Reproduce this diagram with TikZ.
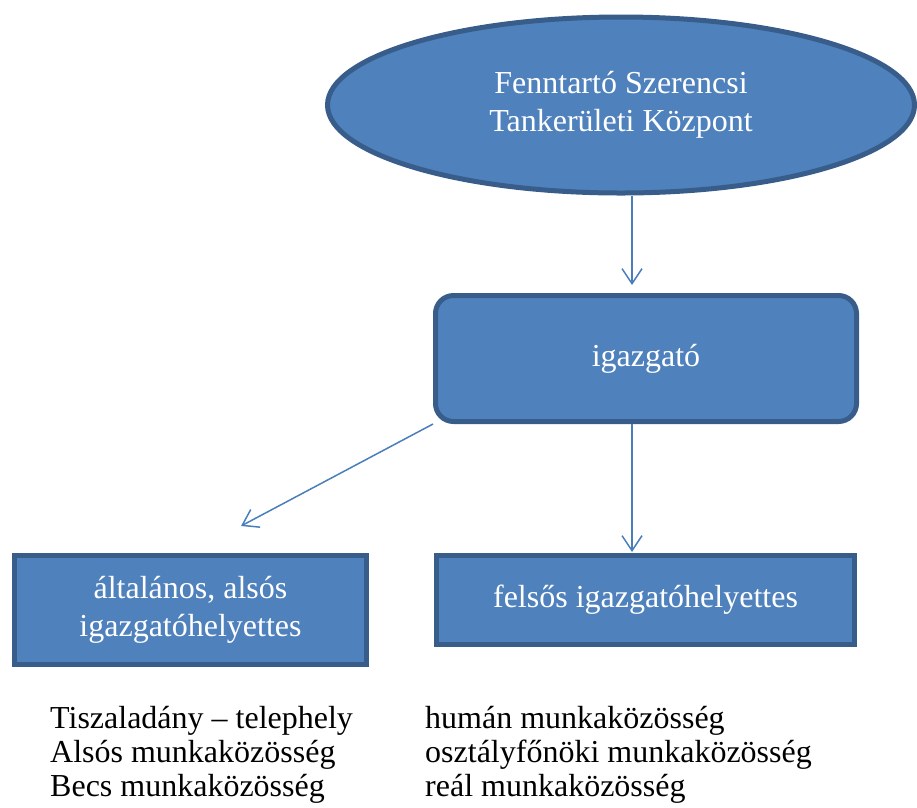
\documentclass[tikz,border=0pt]{standalone}
\usepackage{fontspec}
\setmainfont{Liberation Serif}
\usepackage{xcolor}
\usetikzlibrary{shapes, arrows.meta, calc, positioning, fit}
\usetikzlibrary{shapes.geometric, shapes.misc}

\definecolor{boxfill}{HTML}{4F81BD}
\definecolor{boxline}{HTML}{385D8A}
\definecolor{arrline}{HTML}{4A7EBB}

\begin{document}
\begin{tikzpicture}[x=1pt, y=-1pt,
        unit/.style = {draw=boxline, fill=boxfill, line width=5pt, text=white, align=center, inner sep=0pt, font=\fontsize{32}{38}\selectfont},
        arr/.style = {draw=arrline, line width=1.5pt, -{Straight Barb[length=15pt, width=20pt]}}]
    \useasboundingbox (0,0) rectangle (917,807);
        \node[unit, ellipse, minimum width=587, minimum height=176] (fenntarto) at (621,105) {Fenntartó Szerencsi\\Tankerületi Központ};
        \node[unit, rectangle, rounded corners=18pt, minimum width=421, minimum height=126] (igazgato) at (646,358.5) {igazgató};
        \node[unit, rectangle, minimum width=352, minimum height=109] (also) at (190.5,610) {általános, alsós\\igazgatóhelyettes};
        \node[unit, rectangle, minimum width=418, minimum height=89] (felso) at (645.5,600) {felsős igazgatóhelyettes};
    \begin{scope}[every node/.style = {font=\fontsize{32}{34}\selectfont, align=left, inner sep=0pt}]
        % base is the last line here
        \node[anchor=base west] (Lista) at (50,796) {Tiszaladány – telephely\\Alsós munkaközösség\\Becs munkaközösség};
        \node[anchor=base west] (Flista) at (425,796) {humán munkaközösség\\osztályfőnöki munkaközösség\\reál munkaközösség};
    \end{scope}
        \coordinate (A1) at (632,285);
        \coordinate (A2) at (632,552);
        \coordinate (A3) at (241,526);
        \draw[arr] (A1 |- fenntarto.south) -- (A1);
        \draw[arr] (igazgato.south west) -- (A3);
        \draw[arr] (A2 |- igazgato.south) -- (A2);
\end{tikzpicture}
\end{document}
